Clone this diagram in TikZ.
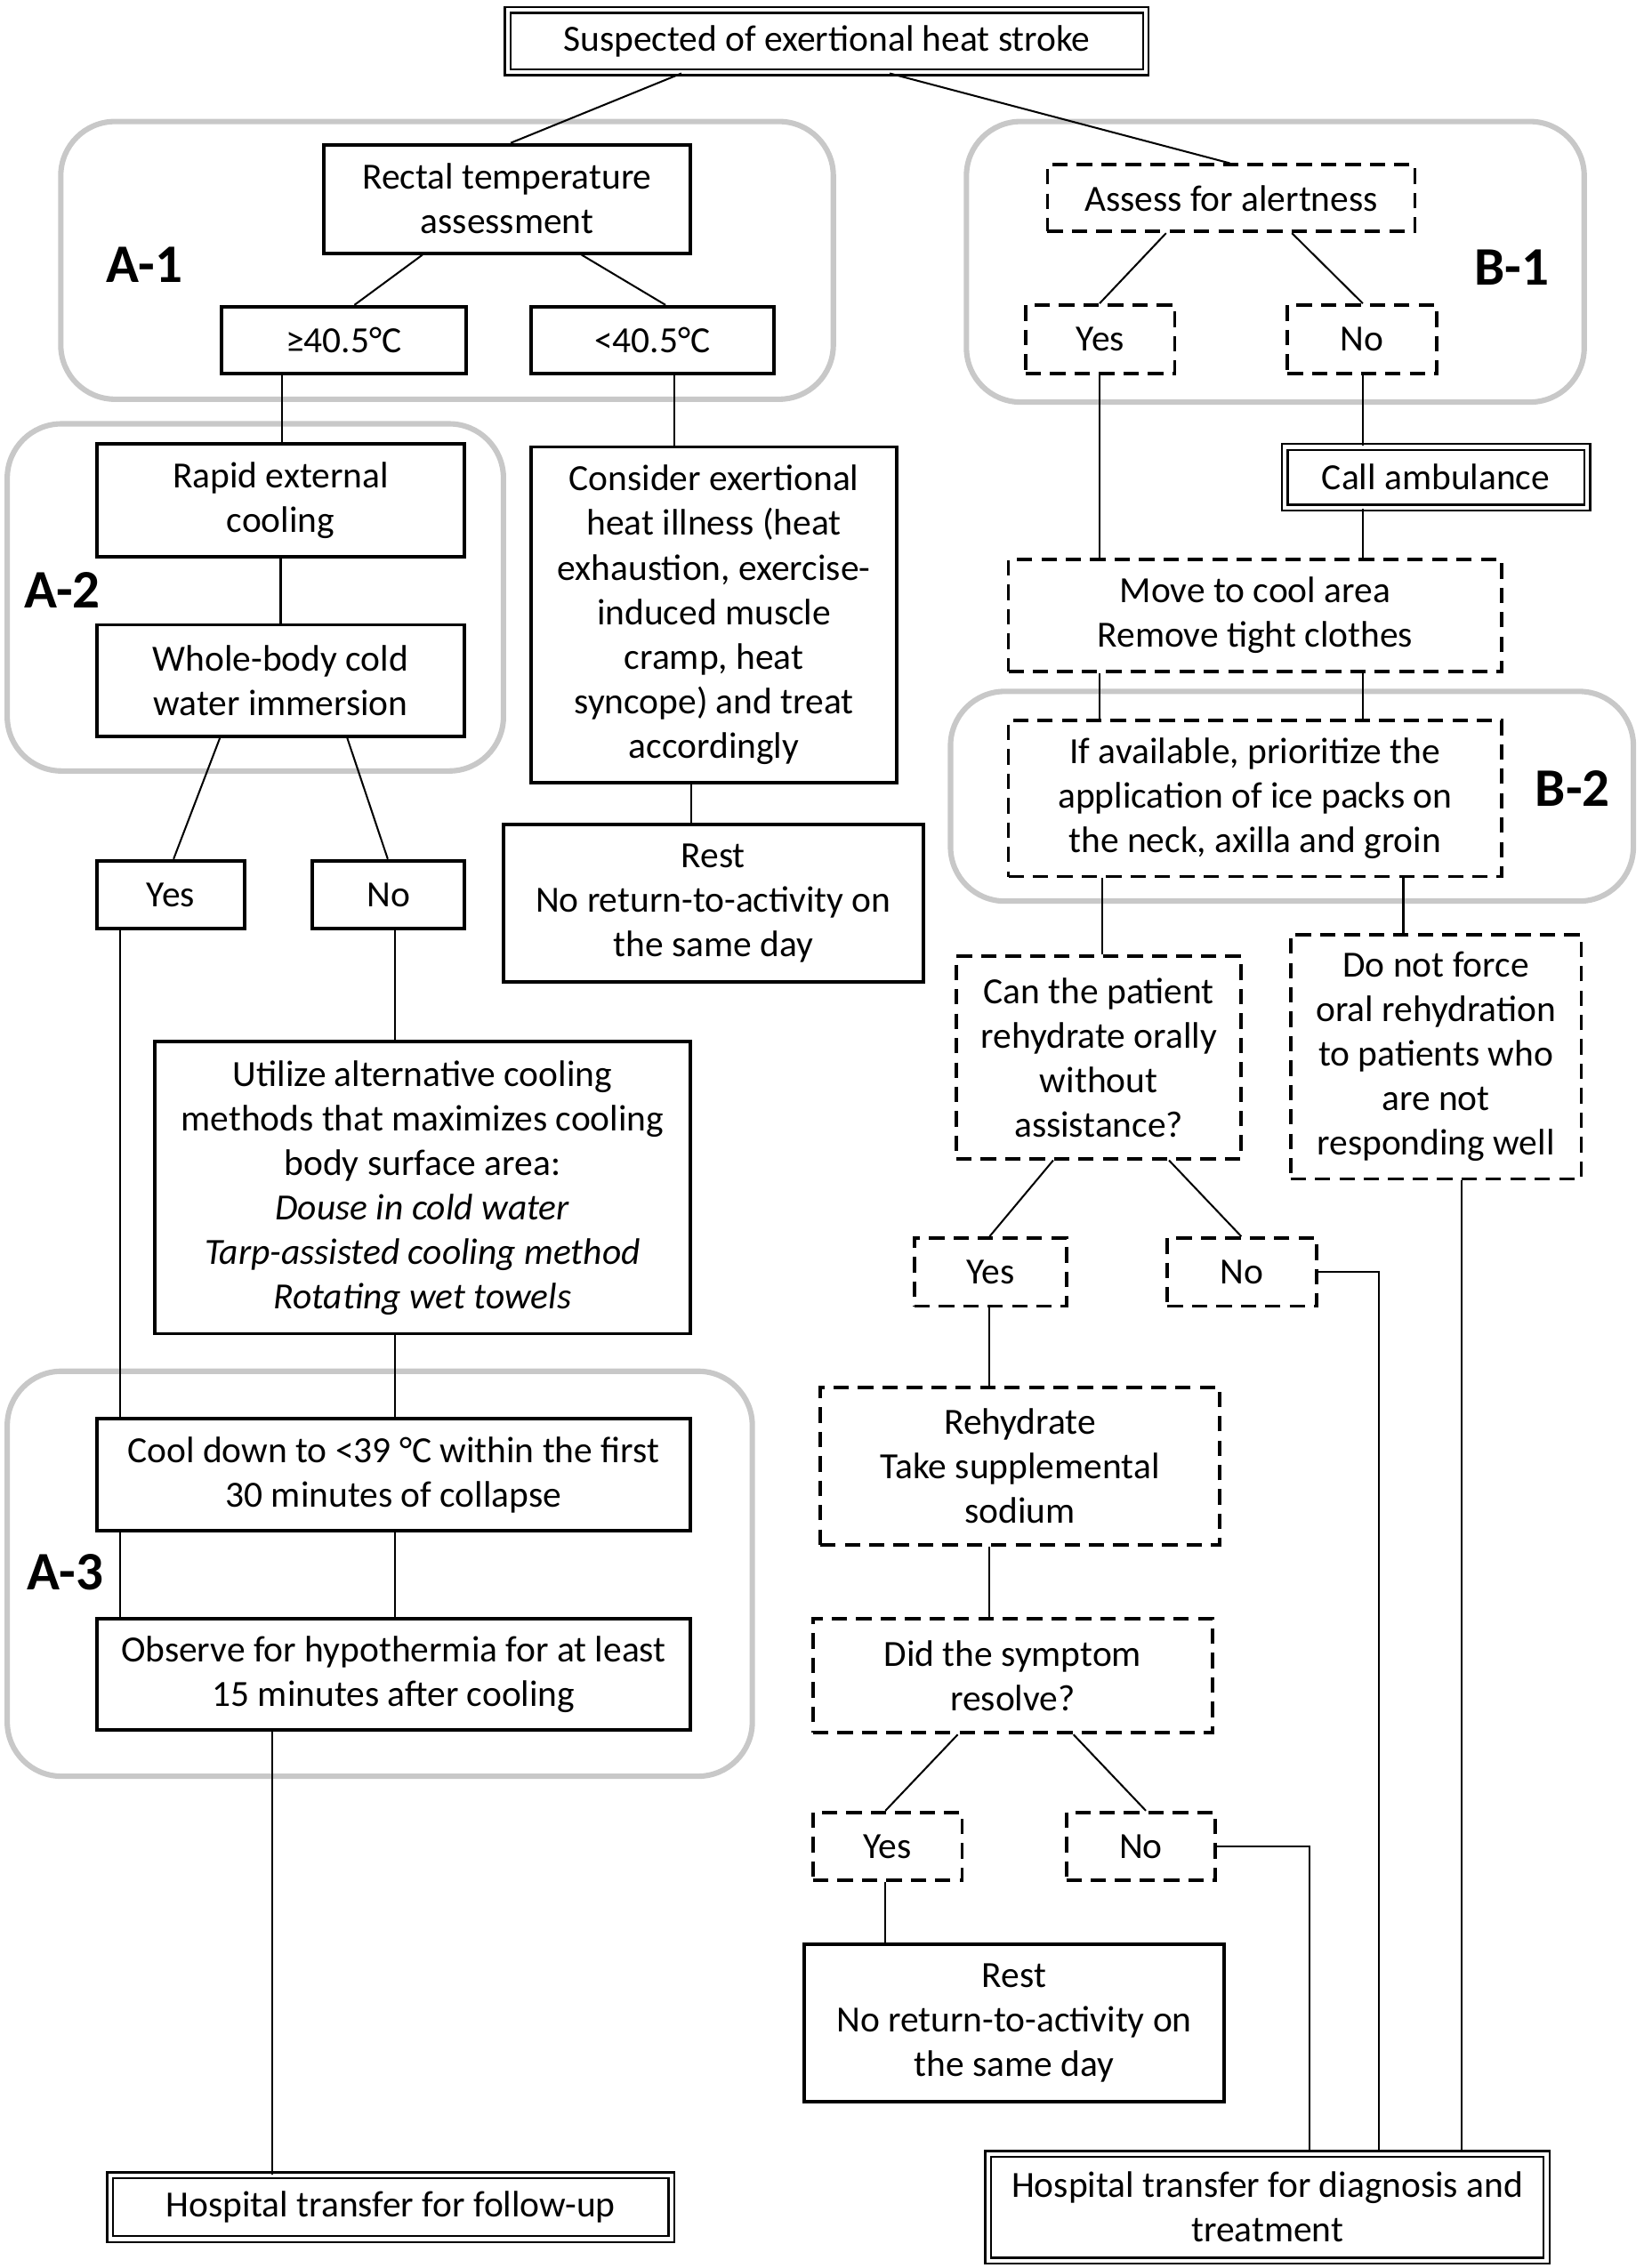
\documentclass[tikz,border=0pt]{standalone}
\usepackage{fontspec}
\setmainfont{Carlito}
\usetikzlibrary{calc}
\definecolor{grp}{RGB}{200,200,200}
\newcommand\boxfont{\fontsize{20.4}{24.6}\selectfont}
\newcommand\grpfont{\fontsize{30}{36}\selectfont\bfseries}
\newcommand\bxx[7]{\node[#1, minimum width={(#5-#3)*0.8pt}, minimum height={(#6-#4)*0.8pt}] (#2) at ({(#3+#5)/2},{(#4+#6)/2+1}) {#7};}
\tikzset{
  base/.style={align=center, inner sep=0pt, font=\boxfont},
  solidbox/.style={base, draw, line width=1.9pt},
  dashbox/.style={base, draw, line width=1.9pt, dash pattern=on 8.5pt off 5pt},
  dblbox/.style={base, draw, double, double distance=2pt, line width=1.2pt},
  conn/.style={line width=1pt},
  group/.style={draw=grp, line width=3pt, rounded corners=30pt},
  grouplabel/.style={font=\grpfont, inner sep=0pt}
}
\begin{document}
\begin{tikzpicture}[x=0.8pt,y=-0.8pt]
\useasboundingbox (0,0) rectangle (1136,1568);
% group containers
\draw[group] (42,84) rectangle (576,276);
\draw[group] (5,293) rectangle (348,533);
\draw[group] (5,948) rectangle (520,1228);
\draw[group] (668,84) rectangle (1095,278);
\draw[group] (657,478) rectangle (1129,623);
\node[grouplabel] (lA1) at (100,183) {A-1};
\node[grouplabel] (lA2) at (43,408) {A-2};
\node[grouplabel] (lA3) at (45,1087) {A-3};
\node[grouplabel] (lB1) at (1045,185) {B-1};
\node[grouplabel] (lB2) at (1087,545) {B-2};
% nodes
\bxx{dblbox}{top}{351}{6}{792}{49}{Suspected of exertional heat stroke}
\bxx{solidbox}{rect}{224}{99}{477}{174}{Rectal temperature\\assessment}
\bxx{solidbox}{ge}{153}{211}{322}{257}{≥40.5°C}
\bxx{solidbox}{lt}{367}{211}{535}{257}{<40.5°C}
\bxx{solidbox}{rapid}{67}{306}{321}{384}{Rapid external\\cooling}
\bxx{solidbox}{whole}{67}{431}{321}{508}{Whole-body cold\\water immersion}
\bxx{solidbox}{yesA}{67}{594}{169}{641}{Yes}
\bxx{solidbox}{noA}{216}{594}{321}{641}{No}
\bxx{solidbox}{util}{107}{719}{477}{921}{Utilize alternative cooling\\methods that maximizes cooling\\body surface area:\\\textit{Douse in cold water}\\\textit{Tarp-assisted cooling method}\\\textit{Rotating wet towels}}
\bxx{solidbox}{cool}{67}{980}{477}{1057}{Cool down to <39 °C within the first\\30 minutes of collapse}
\bxx{solidbox}{obs}{67}{1118}{477}{1195}{Observe for hypothermia for at least\\15 minutes after cooling}
\bxx{dblbox}{hospA}{76}{1503}{464}{1547}{Hospital transfer for follow-up}
\bxx{solidbox}{consider}{367}{308}{620}{540}{Consider exertional\\heat illness (heat\\exhaustion, exercise-\\induced muscle\\cramp, heat\\syncope) and treat\\accordingly}
\bxx{solidbox}{restA}{348}{569}{638}{678}{Rest\\No return-to-activity on\\the same day}
\bxx{dashbox}{assess}{724}{113}{978}{159}{Assess for alertness}
\bxx{dashbox}{yesB}{709}{210}{812}{257}{Yes}
\bxx{dashbox}{noB}{890}{210}{993}{257}{No}
\bxx{dblbox}{call}{888}{308}{1097}{350}{Call ambulance}
\bxx{dashbox}{move}{697}{386}{1038}{463}{Move to cool area\\Remove tight clothes}
\bxx{dashbox}{ifav}{697}{497}{1038}{605}{If available, prioritize the\\application of ice packs on\\the neck, axilla and groin}
\bxx{dashbox}{can}{661}{660}{858}{800}{Can the patient\\rehydrate orally\\without\\assistance?}
\bxx{dashbox}{donot}{892}{645}{1093}{814}{Do not force\\oral rehydration\\to patients who\\are not\\responding well}
\bxx{dashbox}{yesC}{632}{855}{737}{902}{Yes}
\bxx{dashbox}{noC}{807}{855}{910}{902}{No}
\bxx{dashbox}{rehyd}{567}{958}{843}{1067}{Rehydrate\\Take supplemental\\sodium}
\bxx{dashbox}{did}{562}{1118}{838}{1197}{Did the symptom\\resolve?}
\bxx{dashbox}{yesD}{562}{1252}{665}{1299}{Yes}
\bxx{dashbox}{noD}{737}{1252}{840}{1299}{No}
\bxx{solidbox}{restB}{556}{1343}{846}{1452}{Rest\\No return-to-activity on\\the same day}
\bxx{dblbox}{hospB}{683}{1488}{1069}{1562}{Hospital transfer for diagnosis and\\treatment}
% connectors
\begin{scope}[conn]
\draw (top.south -| 471,0) -- (rect.north -| 353,0);
\draw (top.south -| 615,0) -- (assess.north -| 850,0);
\draw (rect.south -| 292,0) -- (ge.north -| 245,0);
\draw (rect.south -| 402,0) -- (lt.north -| 460,0);
\draw (ge.south -| 195,0) -- (rapid.north -| 195,0);
\draw (lt.south -| 466,0) -- (consider.north -| 466,0);
\draw (rapid.south) -- (whole.north);
\draw (whole.south -| 152,0) -- (yesA.north -| 120,0);
\draw (whole.south -| 240,0) -- (noA.north -| 268,0);
\draw (yesA.south -| 83,0) -- (cool.north -| 83,0);
\draw (noA.south -| 273,0) -- (util.north -| 273,0);
\draw (util.south -| 273,0) -- (cool.north -| 273,0);
\draw (cool.south -| 83,0) -- (obs.north -| 83,0);
\draw (cool.south -| 273,0) -- (obs.north -| 273,0);
\draw (obs.south -| 188,0) -- (hospA.north -| 188,0);
\draw (consider.south -| 478,0) -- (restA.north -| 478,0);
\draw (assess.south -| 806,0) -- (yesB.north -| 760,0);
\draw (assess.south -| 893,0) -- (noB.north -| 942,0);
\draw (yesB.south -| 760,0) -- (move.north -| 760,0);
\draw (noB.south -| 942,0) -- (call.north -| 942,0);
\draw (call.south -| 942,0) -- (move.north -| 942,0);
\draw (move.south -| 760,0) -- (ifav.north -| 760,0);
\draw (move.south -| 942,0) -- (ifav.north -| 942,0);
\draw (ifav.south -| 762,0) -- (can.north -| 762,0);
\draw (ifav.south -| 970,0) -- (donot.north -| 970,0);
\draw (can.south -| 728,0) -- (yesC.north -| 684,0);
\draw (can.south -| 808,0) -- (noC.north -| 858,0);
\draw (noC.east) -| (hospB.north -| 953,0);
\draw (donot.south -| 1010,0) -- (hospB.north -| 1010,0);
\draw (yesC.south -| 684,0) -- (rehyd.north -| 684,0);
\draw (rehyd.south -| 684,0) -- (did.north -| 684,0);
\draw (did.south -| 662,0) -- (yesD.north -| 612,0);
\draw (did.south -| 742,0) -- (noD.north -| 792,0);
\draw (noD.east) -| (hospB.north -| 905,0);
\draw (yesD.south -| 612,0) -- (restB.north -| 612,0);
\end{scope}
\end{tikzpicture}
\end{document}
